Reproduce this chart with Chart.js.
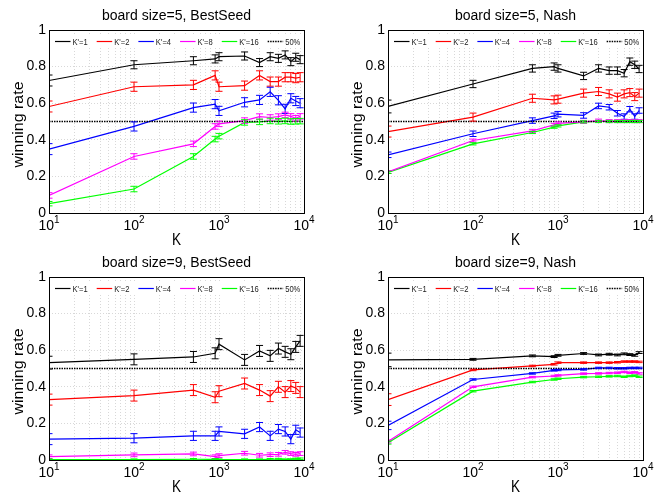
<!DOCTYPE html>
<html>
<head>
<meta charset="utf-8">
<script src="https://cdn.jsdelivr.net/npm/chart.js@4"></script>
<style>
  html, body { margin: 0; padding: 0; background: #fff; }
  #wrap { position: relative; width: 662px; height: 498px; overflow: hidden; }
  canvas { position: absolute; }
</style>
</head>
<body>
<div id="wrap">
  <canvas id="c0" width="323" height="249" style="left:0;top:0"></canvas>
  <canvas id="c1" width="323" height="249" style="left:339px;top:0"></canvas>
  <canvas id="c2" width="323" height="249" style="left:0;top:247px"></canvas>
  <canvas id="c3" width="323" height="249" style="left:339px;top:247px"></canvas>
</div>
<script>
/* ---------- data ---------- */
const KS      = [10, 100, 500, 900, 1000, 2000, 3000, 4000, 5000, 6000, 7000, 8000, 9000];
const SERIES  = ["K'=1", "K'=2", "K'=4", "K'=8", "K'=16"];
const X_GRID  = [10, 20, 30, 40, 50, 60, 70, 80, 90,
                 100, 200, 300, 400, 500, 600, 700, 800, 900,
                 1000, 2000, 3000, 4000, 5000, 6000, 7000, 8000, 9000, 10000];
const X_EXP   = [1, 2, 3, 4];
const Y_TICKS = [0, 0.2, 0.4, 0.6, 0.8, 1];
const HALF_X  = [10, 10000];
const HALF    = 0.5;
const TITLES  = ['board size=5, BestSeed', 'board size=5, Nash',
                 'board size=9, BestSeed', 'board size=9, Nash'];

// board size 5, BestSeed
const BS5_K1  = [0.724, 0.81, 0.832, 0.842, 0.854, 0.858, 0.822, 0.854, 0.845, 0.864, 0.827, 0.851, 0.838];
const BS5_K2  = [0.582, 0.69, 0.70, 0.752, 0.69, 0.696, 0.752, 0.718, 0.718, 0.742, 0.742, 0.737, 0.742];
const BS5_K4  = [0.349, 0.473, 0.576, 0.595, 0.558, 0.605, 0.618, 0.662, 0.616, 0.569, 0.627, 0.612, 0.600];
const BS5_K8  = [0.096, 0.309, 0.378, 0.473, 0.487, 0.505, 0.527, 0.522, 0.527, 0.536, 0.528, 0.518, 0.528];
const BS5_K16 = [0.051, 0.131, 0.309, 0.404, 0.42, 0.495, 0.498, 0.503, 0.501, 0.503, 0.500, 0.501, 0.502];
const BS5_ERR     = [0.022, 0.025, 0.025, 0.015, 0.015];
const BS5_ERR_K10 = [0.03, 0.03, 0.03, 0.015, 0.012];

// board size 5, Nash
const N5_K1  = [0.582, 0.705, 0.79, 0.80, 0.79, 0.749, 0.79, 0.778, 0.778, 0.764, 0.827, 0.81, 0.787];
const N5_K2  = [0.445, 0.524, 0.627, 0.618, 0.622, 0.655, 0.664, 0.651, 0.633, 0.651, 0.658, 0.636, 0.655];
const N5_K4  = [0.318, 0.433, 0.505, 0.531, 0.54, 0.533, 0.585, 0.578, 0.545, 0.527, 0.567, 0.527, 0.56];
const N5_K8  = [0.224, 0.396, 0.449, 0.482, 0.49, 0.498, 0.505, 0.502, 0.502, 0.502, 0.503, 0.502, 0.502];
const N5_K16 = [0.222, 0.378, 0.44, 0.469, 0.476, 0.498, 0.500, 0.500, 0.500, 0.500, 0.500, 0.500, 0.500];
const N5_ERR     = [0.02, 0.022, 0.015, 0.008, 0.006];
const N5_ERR_K10 = [0.035, 0.03, 0.015, 0.008, 0.006];

// board size 9, BestSeed
const BS9_K1  = [0.532, 0.55, 0.563, 0.583, 0.633, 0.547, 0.596, 0.569, 0.609, 0.591, 0.578, 0.618, 0.651];
const BS9_K2  = [0.33, 0.352, 0.382, 0.343, 0.376, 0.418, 0.382, 0.349, 0.40, 0.371, 0.404, 0.394, 0.371];
const BS9_K4  = [0.114, 0.119, 0.132, 0.132, 0.156, 0.143, 0.18, 0.132, 0.169, 0.156, 0.114, 0.165, 0.15];
const BS9_K8  = [0.018, 0.028, 0.033, 0.018, 0.024, 0.037, 0.026, 0.029, 0.031, 0.042, 0.035, 0.031, 0.035];
const BS9_K16 = [0.002, 0.002, 0.004, 0.003, 0.002, 0.002, 0.002, 0.004, 0.005, 0.002, 0.003, 0.006, 0.007];
const BS9_ERR     = [0.03, 0.03, 0.025, 0.01, 0.004];
const BS9_ERR_K10 = [0.035, 0.03, 0.03, 0.01, 0.004];

// board size 9, Nash
const N9_K1  = [0.547, 0.55, 0.569, 0.565, 0.572, 0.582, 0.574, 0.578, 0.574, 0.58, 0.576, 0.572, 0.587];
const N9_K2  = [0.33, 0.492, 0.514, 0.523, 0.532, 0.532, 0.532, 0.532, 0.534, 0.538, 0.538, 0.538, 0.536];
const N9_K4  = [0.189, 0.44, 0.473, 0.49, 0.492, 0.495, 0.503, 0.503, 0.501, 0.501, 0.503, 0.503, 0.503];
const N9_K8  = [0.101, 0.40, 0.453, 0.459, 0.462, 0.472, 0.473, 0.475, 0.477, 0.481, 0.477, 0.479, 0.473];
const N9_K16 = [0.095, 0.376, 0.426, 0.44, 0.444, 0.453, 0.455, 0.457, 0.459, 0.455, 0.459, 0.461, 0.455];
const N9_ERR     = [0.005, 0.004, 0.004, 0.004, 0.004];
const N9_ERR_K10 = [0.037, 0.032, 0.023, 0.008, 0.008];

/* ---------- style ---------- */
const COLORS = ['#000000', '#ff0000', '#0000ff', '#ff00ff', '#00ff00'];
const FONT   = '"Liberation Sans", Arial, Helvetica, sans-serif';
const GRID   = '#d8d8d8';

Chart.defaults.font.family = FONT;
Chart.defaults.color = '#000';

// text squeezed/stretched along its own direction (the figure's fonts are condensed)
function squeezedText(ctx, txt, x, y, sx) {
  ctx.save();
  ctx.translate(x, y);
  ctx.scale(sx, 1);
  ctx.fillText(txt, 0, 0);
  ctx.restore();
}

/* error bars, drawn on top of the lines */
const errorBars = {
  id: 'errorBars',
  afterDatasetsDraw(chart) {
    const ctx = chart.ctx, y = chart.scales.y;
    ctx.save();
    ctx.beginPath();
    ctx.rect(chart.chartArea.left, chart.chartArea.top - 2,
             chart.chartArea.width, chart.chartArea.height + 4);
    ctx.clip();
    chart.data.datasets.forEach(function (ds, di) {
      if (!ds.errs) return;
      const pts = chart.getDatasetMeta(di).data;
      ctx.strokeStyle = ds.borderColor;
      ctx.lineWidth = 1;
      ds.data.forEach(function (v, i) {
        const px = pts[i].x;
        const t = y.getPixelForValue(v + ds.errs[i]);
        const b = y.getPixelForValue(v - ds.errs[i]);
        ctx.beginPath();
        ctx.moveTo(px, t); ctx.lineTo(px, b);
        ctx.moveTo(px - 3.5, t); ctx.lineTo(px + 3.5, t);
        ctx.moveTo(px - 3.5, b); ctx.lineTo(px + 3.5, b);
        ctx.stroke();
      });
    });
    ctx.restore();
  }
};

/* box, legend, title and axis texts */
const frame = {
  id: 'frame',
  afterDraw(chart) {
    const ctx = chart.ctx, a = chart.chartArea, xs = chart.scales.x;
    ctx.save();

    // axes box
    ctx.strokeStyle = '#000';
    ctx.lineWidth = 1;
    ctx.strokeRect(Math.round(a.left) + 0.5, Math.round(a.top) + 0.5,
                   Math.round(a.width), Math.round(a.height));

    // legend inside the axes
    const ly = a.top + 11.5;
    const SX = 0.8;
    ctx.fillStyle = '#fff';
    ctx.fillRect(a.left + 3, a.top + 5, a.width - 5, 13);
    ctx.font = '9.5px ' + FONT;
    ctx.textBaseline = 'middle';
    ctx.textAlign = 'left';
    let lx = a.left + 6;
    chart.data.datasets.forEach(function (ds) {
      ctx.strokeStyle = ds.borderColor;
      ctx.lineWidth = ds.errs ? 1.2 : 1.6;
      ctx.setLineDash(ds.errs ? [] : [1.5, 1]);
      ctx.beginPath();
      ctx.moveTo(lx, ly); ctx.lineTo(lx + 15.5, ly);
      ctx.stroke();
      ctx.setLineDash([]);
      ctx.fillStyle = '#222';
      squeezedText(ctx, ds.label, lx + 17.5, ly + 0.5, SX);
      lx += 17.5 + ctx.measureText(ds.label).width * SX + 9;
    });

    // title
    const cx = (a.left + a.right) / 2;
    ctx.fillStyle = '#000';
    ctx.textAlign = 'center';
    ctx.textBaseline = 'alphabetic';
    ctx.font = '14px ' + FONT;
    ctx.fillText(chart.options.plugins.frame.title, cx, 20);

    // x tick labels 10^n
    X_EXP.forEach(function (e) {
      const px = xs.getPixelForValue(Math.pow(10, e));
      ctx.font = '14px ' + FONT;
      const w1 = ctx.measureText('10').width;
      ctx.font = '10px ' + FONT;
      const w2 = ctx.measureText(String(e)).width;
      const x0 = px - (w1 + w2) / 2;
      ctx.textAlign = 'left';
      ctx.font = '14px ' + FONT;
      ctx.fillText('10', x0, a.bottom + 17);
      ctx.font = '10px ' + FONT;
      ctx.fillText(String(e), x0 + w1, a.bottom + 10);
    });

    // axis titles
    ctx.textAlign = 'center';
    ctx.font = '16px ' + FONT;
    squeezedText(ctx, 'K', cx, a.bottom + 31.5, 0.85);
    ctx.font = '14px ' + FONT;
    const wl = ctx.measureText('winning rate').width;
    ctx.save();
    ctx.translate(19, (a.top + a.bottom) / 2 + 3);
    ctx.rotate(-Math.PI / 2);
    ctx.scale(86 / wl, 1);
    ctx.textBaseline = 'middle';
    ctx.fillText('winning rate', 0, 0);
    ctx.restore();

    ctx.restore();
  }
};

function makeChart(id, title, series, err, errK10) {
  const datasets = series.map(function (vals, i) {
    return {
      label: SERIES[i],
      data: vals,
      borderColor: COLORS[i],
      borderWidth: 1.2,
      pointRadius: 0,
      tension: 0,
      order: i + 1,
      errs: vals.map(function (v, j) { return j === 0 ? errK10[i] : err[i]; })
    };
  });
  datasets.push({
    label: '50%',
    data: HALF_X.map(function (k) { return { x: k, y: HALF }; }),
    borderColor: '#000',
    borderWidth: 1.6,
    borderDash: [1.5, 1],
    pointRadius: 0,
    order: 0
  });

  const gridOpts = { color: GRID, lineWidth: 1, drawTicks: false };
  const borderOpts = { display: false, dash: [1, 2] };

  return new Chart(document.getElementById(id), {
    type: 'line',
    data: { labels: KS, datasets: datasets },
    options: {
      responsive: false,
      animation: false,
      devicePixelRatio: 1,
      layout: { padding: { top: 30, right: 19, left: 0, bottom: 0 } },
      scales: {
        x: {
          type: 'logarithmic',
          min: 10, max: 10000,
          afterBuildTicks: function (s) { s.ticks = X_GRID.map(function (v) { return { value: v }; }); },
          afterFit: function (s) { s.height = 36; },
          ticks: { display: false },
          grid: gridOpts,
          border: borderOpts
        },
        y: {
          type: 'linear',
          min: 0, max: 1,
          afterBuildTicks: function (s) { s.ticks = Y_TICKS.map(function (v) { return { value: v }; }); },
          afterFit: function (s) { s.width = 49; },
          ticks: {
            font: { size: 14 },
            color: '#000',
            padding: 3,
            callback: function (v) { return String(v); }
          },
          grid: gridOpts,
          border: borderOpts
        }
      },
      plugins: {
        legend: { display: false },
        title: { display: false },
        tooltip: { enabled: false },
        frame: { title: title }
      }
    },
    plugins: [errorBars, frame]
  });
}

makeChart('c0', TITLES[0], [BS5_K1, BS5_K2, BS5_K4, BS5_K8, BS5_K16], BS5_ERR, BS5_ERR_K10);
makeChart('c1', TITLES[1], [N5_K1, N5_K2, N5_K4, N5_K8, N5_K16], N5_ERR, N5_ERR_K10);
makeChart('c2', TITLES[2], [BS9_K1, BS9_K2, BS9_K4, BS9_K8, BS9_K16], BS9_ERR, BS9_ERR_K10);
makeChart('c3', TITLES[3], [N9_K1, N9_K2, N9_K4, N9_K8, N9_K16], N9_ERR, N9_ERR_K10);
</script>
</body>
</html>
